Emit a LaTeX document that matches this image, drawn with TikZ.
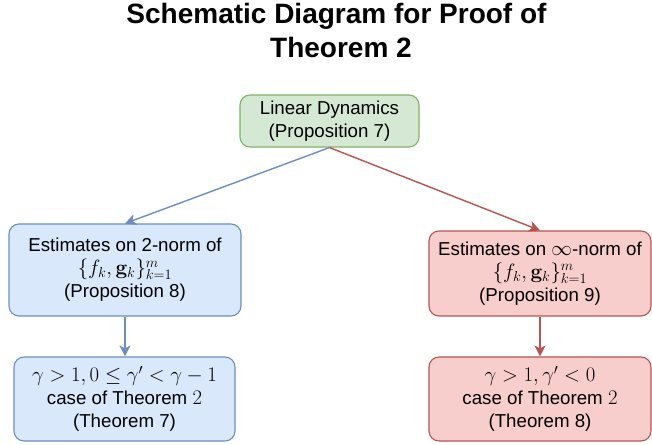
\documentclass[tikz,border=0pt]{standalone}
\usepackage[no-math]{fontspec}
\setmainfont{Liberation Sans}
\usetikzlibrary{arrows.meta}
\definecolor{gfill}{HTML}{D5E8D4}
\definecolor{gline}{HTML}{82B366}
\definecolor{bfill}{HTML}{DAE8FC}
\definecolor{bline}{HTML}{6C8EBF}
\definecolor{rfill}{HTML}{F8CECC}
\definecolor{rline}{HTML}{B85450}
\newcommand{\mathln}[1]{{\fontsize{22.3}{23}\selectfont$#1$}}
\newcommand{\mathsm}[1]{{\fontsize{21}{23}\selectfont$#1$}}
\tikzset{
  box/.style={draw, rounded corners=10pt, line width=1.1pt, align=center, inner sep=0pt,
    font=\fontsize{18.7}{23}\selectfont},
  greenbox/.style={box, fill=gfill, draw=gline},
  bluebox/.style={box, fill=bfill, draw=bline},
  redbox/.style={box, fill=rfill, draw=rline},
  titletext/.style={font=\fontsize{28}{33}\selectfont\bfseries, anchor=base, inner sep=0pt},
  conn/.style={line width=1.4pt, -{Stealth[length=11pt,width=11pt,inset=3pt]}},
}
\begin{document}
\begin{tikzpicture}[x=1pt,y=-1pt]
\useasboundingbox[fill=white] (0,0) rectangle (652,444);
\node[titletext] (t1) at (336.5,24) {Schematic Diagram for Proof of};
\node[titletext] (t2) at (341,57) {Theorem 2};
\node[greenbox, minimum width=179pt, minimum height=52pt] (lin) at (329.5,121) {Linear Dynamics\\(Proposition 7)};
\node[bluebox, minimum width=232pt, minimum height=92pt] (b1) at (125,270) {Estimates on 2-norm of\\\mathln{\{f_k,\mathbf{g}_k\}_{k=1}^m}\\(Proposition 8)};
\node[redbox, minimum width=222pt, minimum height=85pt] (r1) at (540,273.5) {Estimates on \mathsm{\infty}-norm of\\\mathln{\{f_k,\mathbf{g}_k\}_{k=1}^m}\\(Proposition 9)};
\node[bluebox, minimum width=221pt, minimum height=84pt] (b2) at (124.5,399) {\mathln{\gamma>1, 0\le\gamma'<\gamma-1}\\case of Theorem \mathsm{2}\\(Theorem 7)};
\node[redbox, minimum width=222pt, minimum height=84pt] (r2) at (540,399) {\mathln{\gamma>1,\gamma'<0}\\case of Theorem \mathsm{2}\\(Theorem 8)};
\draw[conn, bline] (lin.south) -- (b1.north);
\draw[conn, rline] (lin.south) -- (r1.north);
\draw[conn, bline] (b1.south) -- (b1.south |- b2.north);
\draw[conn, rline] (r1.south) -- (r1.south |- r2.north);
\end{tikzpicture}
\end{document}
